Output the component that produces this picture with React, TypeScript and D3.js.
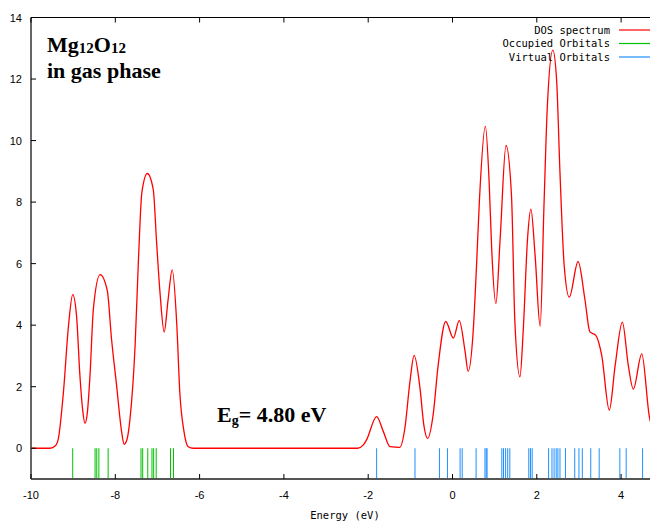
import React from "react";
import * as d3 from "d3";

// DOS spectrum (energy in eV, intensity)
const dosEnergy = [
  -10, -9.55, -9.42, -9.35, -9.23, -9.11, -9.01, -8.92, -8.84, -8.77, -8.72, -8.66, -8.6, -8.52,
  -8.36, -8.19, -8.09, -7.97, -7.85, -7.79, -7.72, -7.65, -7.53, -7.45, -7.37, -7.24, -7.1,
  -7.02, -6.94, -6.84, -6.75, -6.65, -6.54, -6.47, -6.37, -6.27, -6.15, -2.25, -2.12, -2.04,
  -1.8, -1.64, -1.48, -1.25, -1.13, -1.01, -0.91, -0.77, -0.68, -0.59, -0.46, -0.34, -0.16,
  0.02, 0.16, 0.3, 0.37, 0.49, 0.57, 0.64, 0.78, 0.87, 0.93, 1.03, 1.13, 1.27, 1.4, 1.48, 1.6,
  1.68, 1.78, 1.86, 1.96, 2.08, 2.17, 2.25, 2.38, 2.47, 2.55, 2.65, 2.77, 2.98, 3.14, 3.26,
  3.4, 3.54, 3.72, 3.86, 4.03, 4.17, 4.29, 4.49, 4.67, 4.75,
];
const dosValue = [
  0, 0, 0.08, 0.32, 1.83, 3.99, 4.99, 4.31, 2.37, 1.19, 0.81, 1.2, 2.37, 4.53,
  5.64, 5.12, 3.56, 2.05, 0.54, 0.13, 0.3, 0.97, 3.34, 6.15, 8.31, 8.93, 8.41,
  6.69, 5.07, 3.78, 4.8, 5.8, 3.99, 1.83, 0.54, 0.05, 0, 0, 0.1, 0.27,
  1.03, 0.54, 0.05, 0.03, 0.65, 2.16, 3.02, 1.94, 0.75, 0.32, 1.08, 2.7, 4.12,
  3.58, 4.15, 3.13, 2.5, 3.78, 5.93, 8.09, 10.46, 8.63, 6.47, 4.7, 6.8, 9.84, 8.2, 4.1, 2.32,
  3.88, 6.8, 7.77, 6.26, 3.97, 7.87, 11.11, 12.94, 11.97, 8.95, 5.93, 4.91, 6.07, 4.85, 3.78,
  3.67, 3.02, 1.24, 2.7, 4.1, 2.7, 1.92, 3.07, 1.03, 0.6,
];

// Orbital energies (eV)
const occupiedOrbitals = [
  -9.01, -8.48, -8.44, -8.39, -8.17, -7.39, -7.35, -7.23, -7.13, -7.09, -7.03, -6.69, -6.62,
];
const virtualOrbitals = [
  -1.8, -0.89, -0.31, -0.12, 0.18, 0.23, 0.56, 0.77, 0.8, 0.82, 1.17, 1.21, 1.26, 1.31, 1.36,
  1.81, 1.85, 1.89, 2.28, 2.36, 2.41, 2.46, 2.5, 2.55, 2.68, 2.9, 3.0, 3.08, 3.28, 3.48, 3.97,
  4.12, 4.51,
];

const xTicks = [-10, -8, -6, -4, -2, 0, 2, 4];
const yTicks = [0, 2, 4, 6, 8, 10, 12, 14];

const legendLabels = ["DOS spectrum", "Occupied Orbitals", "Virtual Orbitals"];
const legendColors = ["#ff0000", "#00c000", "#1e8fff"];

const W = 650;
const H = 523;
const L = 31;
const T = 17.5;
const B = 479;

export default function App() {
  const x = d3.scaleLinear().domain([-10, 5]).range([L, L + 15 * 42.15]);
  const y = d3.scaleLinear().domain([-1, 14]).range([B, T]);

  const pts: [number, number][] = dosEnergy.map((e, i) => [e, dosValue[i]]);
  const line = d3
    .line<[number, number]>()
    .x((d) => x(d[0]))
    .y((d) => y(d[1]))
    .curve(d3.curveMonotoneX);

  const mono = "'DejaVu Sans Mono', monospace";
  const sans = "'Liberation Sans', Arial, sans-serif";
  const serif = "'Liberation Serif', 'Times New Roman', serif";

  return (
    <svg
      width={W}
      height={H}
      style={{ position: "absolute", left: 0, top: 0, background: "#fff" }}
    >
      <defs>
        <clipPath id="plot">
          <rect x={L} y={T} width={W - L} height={B - T} />
        </clipPath>
      </defs>
      <rect x={0} y={0} width={W} height={H} fill="#fff" />

      {/* orbital lines */}
      <g clipPath="url(#plot)">
        {occupiedOrbitals.map((e, i) => (
          <line
            key={"o" + i}
            x1={x(e)}
            x2={x(e)}
            y1={y(0)}
            y2={y(-1)}
            stroke={legendColors[1]}
            strokeWidth={1}
          />
        ))}
        {virtualOrbitals.map((e, i) => (
          <line
            key={"v" + i}
            x1={x(e)}
            x2={x(e)}
            y1={y(0)}
            y2={y(-1)}
            stroke={legendColors[2]}
            strokeWidth={1}
          />
        ))}
        <path d={line(pts) || ""} fill="none" stroke={legendColors[0]} strokeWidth={1.3} />
      </g>

      {/* frame */}
      <line x1={L} x2={W} y1={T} y2={T} stroke="#000" strokeWidth={1} />
      <line x1={L} x2={L} y1={T} y2={B} stroke="#666" strokeWidth={2} />
      <line x1={L} x2={W} y1={B} y2={B} stroke="#555" strokeWidth={2} />

      {/* x ticks */}
      {xTicks.map((t) => (
        <g key={"x" + t}>
          <line x1={x(t)} x2={x(t)} y1={B} y2={B - 5} stroke="#000" />
          <line x1={x(t)} x2={x(t)} y1={T} y2={T + 5} stroke="#000" />
          <text
            x={x(t)}
            y={499}
            textAnchor="middle"
            fontFamily={sans}
            fontSize={11}
            fill="#000"
          >
            {String(t)}
          </text>
        </g>
      ))}

      {/* y ticks */}
      {yTicks.map((t) => (
        <g key={"y" + t}>
          <line x1={L} x2={L + 5} y1={y(t)} y2={y(t)} stroke="#000" />
          <text
            x={22}
            y={y(t) + 4}
            textAnchor="end"
            fontFamily={sans}
            fontSize={11}
            fill="#000"
          >
            {t}
          </text>
        </g>
      ))}

      {/* axis title */}
      <text x={345} y={519} textAnchor="middle" fontFamily={mono} fontSize={10.5} fill="#000">
        Energy (eV)
      </text>

      {/* legend */}
      {legendLabels.map((lab, i) => (
        <g key={lab}>
          <text
            x={610}
            y={30 + i * 13.5 + 3.5}
            textAnchor="end"
            fontFamily={mono}
            fontSize={10.5}
            fill="#000"
          >
            {lab}
          </text>
          <line
            x1={619}
            x2={650}
            y1={30 + i * 13.5}
            y2={30 + i * 13.5}
            stroke={legendColors[i]}
            strokeWidth={1.2}
          />
        </g>
      ))}

      {/* annotations */}
      <text x={47} y={52} fontFamily={serif} fontWeight="bold" fontSize={22} fill="#000">
        Mg
        <tspan fontSize={15} dy={1}>12</tspan>
        <tspan fontSize={22} dy={-1}>O</tspan>
        <tspan fontSize={15} dy={1}>12</tspan>
      </text>
      <text x={47} y={78} fontFamily={serif} fontWeight="bold" fontSize={22} fill="#000">
        in gas phase
      </text>
      <text x={217} y={422} fontFamily={serif} fontWeight="bold" fontSize={22} fill="#000">
        E
        <tspan fontSize={14} dy={3}>g</tspan>
        <tspan fontSize={22} dy={-3}>= 4.80 eV</tspan>
      </text>
    </svg>
  );
}
